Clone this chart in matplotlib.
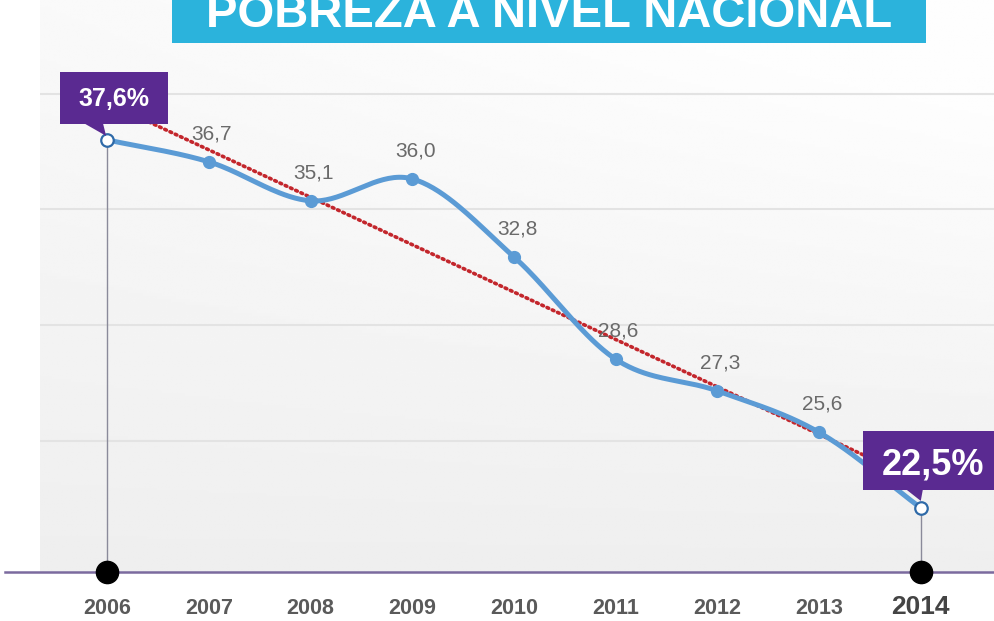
#!/usr/bin/env python3

import numpy as np
import matplotlib
matplotlib.use('Agg')
import matplotlib.pyplot as plt
from matplotlib.patches import Polygon, Rectangle

years = [2006, 2007, 2008, 2009, 2010, 2011, 2012, 2013, 2014]
poverty = [37.6, 36.7, 35.1, 36.0, 32.8, 28.6, 27.3, 25.6, 22.5]
value_labels = ['37,6%', '36,7', '35,1', '36,0', '32,8', '28,6', '27,3', '25,6', '22,5%']
year_labels = ['2006', '2007', '2008', '2009', '2010', '2011', '2012', '2013', '2014']
grid_values = [39.5, 34.75, 30.0, 25.25]
title = 'POBREZA A NIVEL NACIONAL'

BLUE = '#5b9bd5'
BLUE_DARK = '#2f6aa8'
PURPLE = '#5a2a91'
RED = '#c3262c'
CYAN = '#2bb3dc'
FONT = 'Liberation Sans'


def catmull_rom(x, y, steps=40):
    # smooth curve through every point
    x = np.asarray(x, float)
    y = np.asarray(y, float)
    px = np.concatenate([[2 * x[0] - x[1]], x, [2 * x[-1] - x[-2]]])
    py = np.concatenate([[2 * y[0] - y[1]], y, [2 * y[-1] - y[-2]]])
    xs, ys = [], []
    t = np.linspace(0, 1, steps)
    for i in range(1, len(px) - 2):
        for p, out in ((px, xs), (py, ys)):
            p0, p1, p2, p3 = p[i - 1], p[i], p[i + 1], p[i + 2]
            out.append(0.5 * ((2 * p1) + (-p0 + p2) * t
                              + (2 * p0 - 5 * p1 + 4 * p2 - p3) * t ** 2
                              + (-p0 + 3 * p1 - 3 * p2 + p3) * t ** 3))
    return np.concatenate(xs), np.concatenate(ys)


fig = plt.figure(figsize=(9.94, 6.21), dpi=100)
ax = fig.add_axes([40 / 994, 49 / 621, 954 / 994, 572 / 621])
ax.set_xlim(2005.34, 2014.72)
ax.set_ylim(19.87, 43.34)
ax.axis('off')

# soft gray background
u = np.linspace(0, 1, 200)
v = np.linspace(0, 1, 200)
U, V = np.meshgrid(u, v)
shade = 0.935 + 0.06 * np.clip(V * 0.7 + U * V * 0.5, 0, 1)
ax.imshow(shade, cmap='gray', vmin=0, vmax=1, extent=[0, 1, 0, 1],
          transform=ax.transAxes, aspect='auto', origin='lower', zorder=0)

for g in grid_values:
    ax.axhline(g, color='#e3e3e3', lw=1.5, zorder=1)

# baseline
ax.plot([2005.0, 2014.72], [19.87, 19.87], color='#7b6a9e', lw=1.8,
        clip_on=False, zorder=2)

# trend line
coef = np.polyfit(years, poverty, 1)
tx = np.array([years[0], years[-1]])
ax.plot(tx, np.polyval(coef, tx), color=RED, lw=2.6,
        linestyle=(0, (0.5, 1.1)), dash_capstyle='round', zorder=2)

# vertical drop lines at the ends
for i in (0, -1):
    ax.plot([years[i], years[i]], [19.87, poverty[i]], color='#8a8a9a', lw=1,
            zorder=2)
    ax.plot(years[i], 19.87, 'o', color='black', ms=16, clip_on=False, zorder=6)

# smooth line
sx, sy = catmull_rom(years, poverty)
ax.plot(sx, sy, color=BLUE, lw=3.6, solid_capstyle='round', zorder=5)
ax.plot(years[1:-1], poverty[1:-1], 'o', color=BLUE, ms=8.5, zorder=6)
ax.plot([years[0], years[-1]], [poverty[0], poverty[-1]], 'o', mfc='white',
        mec=BLUE_DARK, mew=1.6, ms=9, zorder=6)

# value labels
for yr, val, lab in zip(years[1:-1], poverty[1:-1], value_labels[1:-1]):
    ax.annotate(lab, (yr, val), xytext=(3, 28), textcoords='offset pixels',
                ha='center', va='center', fontsize=15, color='#6a6a6a',
                family=FONT, zorder=7)

# year labels
for yr, lab in zip(years, year_labels):
    big = lab == '2014'
    ax.annotate(lab, (yr, 0), xycoords=('data', 'axes fraction'),
                xytext=(0, -35 if big else -37), textcoords='offset pixels',
                ha='center', va='center', fontsize=19 if big else 15.5,
                fontweight='bold', color='#444444' if big else '#5a5a5a',
                family=FONT, annotation_clip=False)

# purple callouts
fig.canvas.draw()
callouts = [
    (0, (-47, 61, 16, 68), [(-22, 16), (-4, 16), (-1, 4)], 18, (7, 41)),
    (-1, (-58, 80, 18, 77), [(-14, 18), (2, 18), (0, 7)], 26, (12, 43)),
]
for i, (l, r, b, t), tail, fs, (dx, dy) in callouts:
    px, py = ax.transData.transform((years[i], poverty[i]))
    fig.patches.append(Rectangle((px + l, py + b), r - l, t - b,
                                 facecolor=PURPLE, edgecolor='none',
                                 transform=None, zorder=4))
    fig.patches.append(Polygon([(px + a, py + c) for a, c in tail],
                               facecolor=PURPLE, edgecolor='none',
                               transform=None, zorder=4))
    fig.text((px + dx) / 994, (py + dy) / 621, value_labels[i], ha='center',
             va='center', fontsize=fs, fontweight='bold', color='white',
             family=FONT, zorder=8)

# title banner
fig.patches.append(Rectangle((172 / 994, 1 - 43 / 621), 754 / 994, 43 / 621,
                             transform=fig.transFigure, facecolor=CYAN,
                             edgecolor='none', zorder=3))
fig.text(549 / 994, 1 - 27 / 621, title, ha='center', va='baseline',
         fontsize=34, fontweight='bold', color='white', family=FONT, zorder=9)

fig.savefig('out.png', dpi=100)
